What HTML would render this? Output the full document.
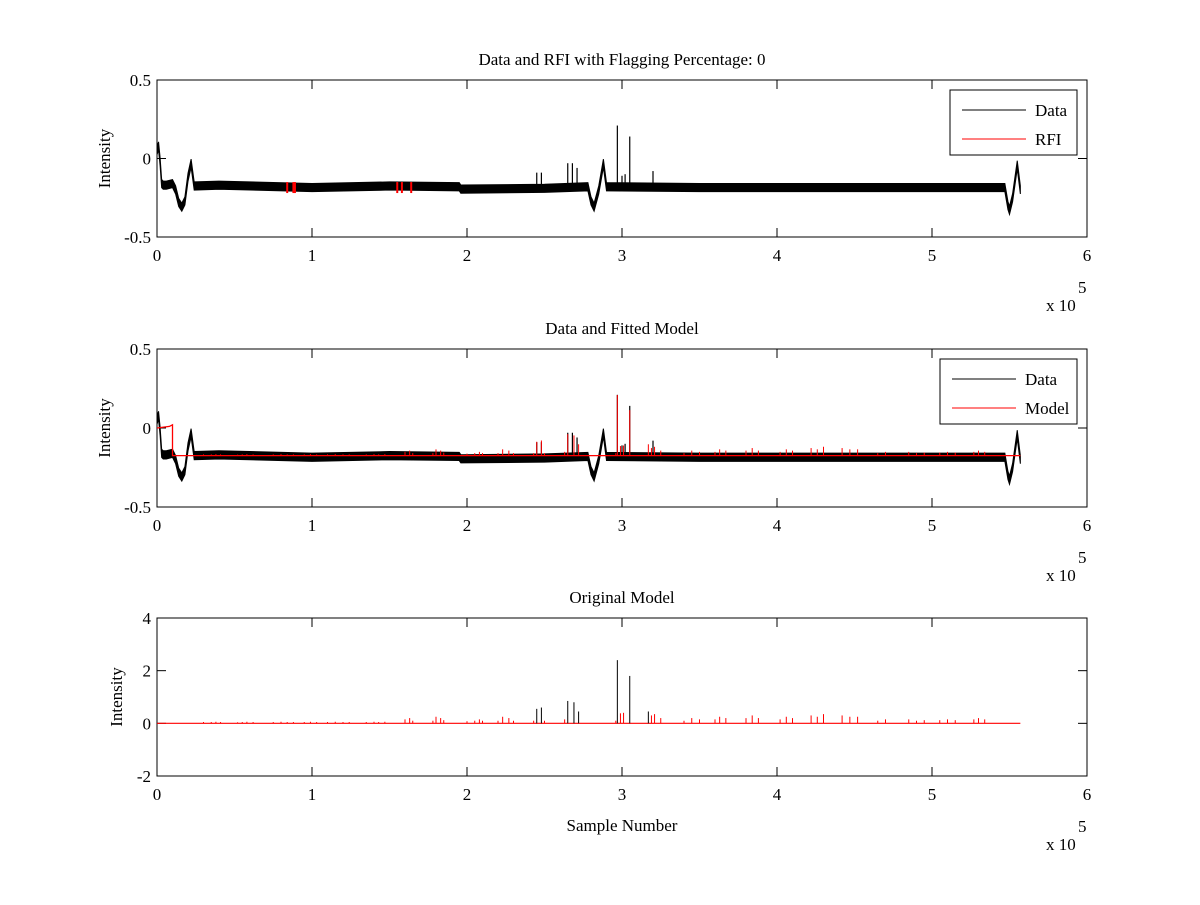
<!DOCTYPE html>
<html><head><meta charset="utf-8"><style>
body{margin:0;background:#fff;width:1200px;height:900px;overflow:hidden}
svg text{font-family:"Liberation Serif",serif;font-size:17px;fill:#000}
</style></head><body>
<svg id="fig" width="1200" height="900" xmlns="http://www.w3.org/2000/svg"></svg>
<script>
// ---- data (x in units of 1e5 samples) ----
const xTicks=[0,1,2,3,4,5,6];
const xTickLabels=["0","1","2","3","4","5","6"];
const yTicks12=[-0.5,0,0.5];
const yTickLabels12=["-0.5","0","0.5"];
const yTicks3=[-2,0,2,4];
const yTickLabels3=["-2","0","2","4"];
// data centerline key points
const dataX=[0,0.01,0.02,0.03,0.04,0.06,0.1,0.12,0.14,0.16,0.18,0.2,0.22,0.24,0.4,1,1.5,1.95,1.96,2.5,2.78,2.8,2.82,2.85,2.88,2.9,3.5,4.5,5.47,5.49,5.5,5.52,5.55,5.57];
const dataY=[0.05,0.08,-0.02,-0.16,-0.17,-0.17,-0.16,-0.2,-0.28,-0.31,-0.27,-0.12,-0.03,-0.175,-0.17,-0.185,-0.175,-0.18,-0.195,-0.19,-0.18,-0.27,-0.31,-0.2,-0.03,-0.18,-0.185,-0.185,-0.185,-0.3,-0.33,-0.25,-0.04,-0.2];
const bandHalf=0.026;
// data spikes (position, peak value)
const spikeX=[2.45,2.48,2.65,2.68,2.71,2.97,3.0,3.02,3.05,3.2];
const spikeY=[-0.09,-0.09,-0.03,-0.03,-0.06,0.21,-0.11,-0.1,0.14,-0.08];
// RFI flagged segments in panel 1
const rfiX=[0.84,0.88,0.89,1.55,1.58,1.64];
// model spikes (original model, panel 3)
const modelX=[0.3,0.35,0.38,0.41,0.52,0.55,0.58,0.62,0.75,0.8,0.84,0.88,0.95,0.99,1.03,1.1,1.15,1.2,1.24,1.35,1.4,1.43,1.47,1.6,1.63,1.65,1.78,1.8,1.83,1.85,2.0,2.05,2.08,2.1,2.2,2.23,2.27,2.3,2.43,2.45,2.48,2.5,2.63,2.65,2.69,2.72,2.96,2.97,2.99,3.01,3.05,3.17,3.19,3.21,3.25,3.4,3.45,3.5,3.6,3.63,3.67,3.8,3.84,3.88,4.02,4.06,4.1,4.22,4.26,4.3,4.42,4.47,4.52,4.65,4.7,4.85,4.9,4.95,5.05,5.1,5.15,5.27,5.3,5.34];
const modelH=[0.05,0.05,0.06,0.05,0.04,0.05,0.06,0.05,0.05,0.06,0.05,0.05,0.05,0.06,0.05,0.05,0.06,0.05,0.05,0.05,0.06,0.05,0.06,0.15,0.2,0.1,0.1,0.25,0.2,0.12,0.08,0.1,0.15,0.1,0.1,0.25,0.2,0.1,0.1,0.55,0.6,0.1,0.15,0.85,0.8,0.45,0.1,2.4,0.38,0.4,1.8,0.45,0.3,0.35,0.2,0.1,0.2,0.15,0.15,0.25,0.2,0.2,0.3,0.2,0.15,0.25,0.2,0.3,0.25,0.35,0.3,0.25,0.25,0.1,0.15,0.15,0.1,0.12,0.12,0.15,0.12,0.15,0.2,0.15];

const NS="http://www.w3.org/2000/svg";
const svg=document.getElementById('fig');
function el(tag,attrs,parent){const e=document.createElementNS(NS,tag);for(const k in attrs)e.setAttribute(k,attrs[k]);(parent||svg).appendChild(e);return e;}
const L=157,R=1087;
const sx=v=>L+(R-L)*v/6;
function mkY(top,bot,lo,hi){return v=>bot-(v-lo)/(hi-lo)*(bot-top);}

function axes(name){
  const g=el('g',{});
  
  
  return g;
}
function frame(g,top,bot,ticks,labels,sy,title,xlabel,ylabelX){
  el('rect',{x:L,y:top,width:R-L,height:bot-top,fill:'none',stroke:'#000','stroke-width':1},g);
  xTicks.forEach((t,i)=>{
    const x=sx(t);
    el('line',{x1:x,y1:bot,x2:x,y2:bot-9,stroke:'#000'},g);
    el('line',{x1:x,y1:top,x2:x,y2:top+9,stroke:'#000'},g);
    const tx=el('text',{x:x,y:bot+24,'text-anchor':'middle'},g);tx.textContent=xTickLabels[i];
    
    
  });
  ticks.forEach((t,i)=>{
    const y=sy(t);
    el('line',{x1:L,y1:y,x2:L+9,y2:y,stroke:'#000'},g);
    el('line',{x1:R,y1:y,x2:R-9,y2:y,stroke:'#000'},g);
    const tx=el('text',{x:L-6,y:y+6,'text-anchor':'end'},g);tx.textContent=labels[i];
    
    
  });
  const t=el('text',{x:(L+R)/2,y:top-15,'text-anchor':'middle'},g);t.textContent=title;
  
  
  const yl=el('text',{x:0,y:0,'text-anchor':'middle',transform:`translate(${ylabelX},${(top+bot)/2}) rotate(-90)`},g);yl.textContent='Intensity';
  
  
  const m=el('text',{x:1046,y:bot+74},g);m.textContent='x 10';
  
  
  const e=el('text',{x:1078,y:bot+56,'font-size':'12px'},g);e.textContent='5';
  if(xlabel){const xl=el('text',{x:(L+R)/2,y:bot+55,'text-anchor':'middle'},g);xl.textContent=xlabel;
    
    }
}
function dataBand(g,sy){
  let up=dataX.map((x,i)=>sx(x)+','+sy(dataY[i]+bandHalf));
  let dn=dataX.map((x,i)=>sx(x)+','+sy(dataY[i]-bandHalf)).reverse();
  const p=el('polygon',{points:up.concat(dn).join(' '),fill:'#000',stroke:'#000','stroke-width':1},g);
  
  
  spikeX.forEach((x,i)=>{
    const ln=el('line',{x1:sx(x),x2:sx(x),y1:sy(-0.17),y2:sy(spikeY[i]),stroke:'#000','stroke-width':1.2},g);
    
    
  });
}
function legend(g,x,y,w,labels){
  const b=el('rect',{x:x,y:y,width:w,height:65,fill:'#fff',stroke:'#000'},g);
  
  
  labels.forEach((lb,i)=>{
    const yy=y+20+i*29;
    el('line',{x1:x+12,x2:x+76,y1:yy,y2:yy,stroke:i?'#f00':'#000'},g);
    const t=el('text',{x:x+85,y:yy+6},g);t.textContent=lb;
    
    
  });
}
// Panel 1
{const top=80,bot=237,sy=mkY(top,bot,-0.5,0.5);const g=axes('data-rfi-axes');
 frame(g,top,bot,yTicks12,yTickLabels12,sy,'Data and RFI with Flagging Percentage: 0',null,110);
 dataBand(g,sy);
 rfiX.forEach(x=>{const r=el('line',{x1:sx(x),x2:sx(x),y1:sy(-0.15),y2:sy(-0.22),stroke:'#f00','stroke-width':2},g);
   
   });
 legend(g,950,90,127,['Data','RFI']);}
// Panel 2
{const top=349,bot=507,sy=mkY(top,bot,-0.5,0.5);const g=axes('data-model-axes');
 frame(g,top,bot,yTicks12,yTickLabels12,sy,'Data and Fitted Model',null,110);
 dataBand(g,sy);
 const base=-0.175;
 const ml=el('polyline',{points:[[0,0],[0.08,0.01],[0.1,0.02],[0.1,base],[5.57,base]].map(p=>sx(p[0])+','+sy(p[1])).join(' '),fill:'none',stroke:'#f00','stroke-width':1.3},g);
 
 
 modelX.forEach((x,i)=>{const s=el('line',{x1:sx(x),x2:sx(x),y1:sy(base),y2:sy(base+modelH[i]*0.16),stroke:'#f00'},g);
   
   });
 legend(g,940,359,137,['Data','Model']);}
// Panel 3
{const top=618,bot=776,sy=mkY(top,bot,-2,4);const g=axes('original-model-axes');
 frame(g,top,bot,yTicks3,yTickLabels3,sy,'Original Model','Sample Number',122);
 const b=el('line',{x1:sx(0),x2:sx(5.57),y1:sy(0),y2:sy(0),stroke:'#f00','stroke-width':1.2},g);
 
 
 modelX.forEach((x,i)=>{const s=el('line',{x1:sx(x),x2:sx(x),y1:sy(0),y2:sy(modelH[i]),stroke:modelH[i]>0.4?'#000':'#f00'},g);
   
   });}
</script>
</body></html>
